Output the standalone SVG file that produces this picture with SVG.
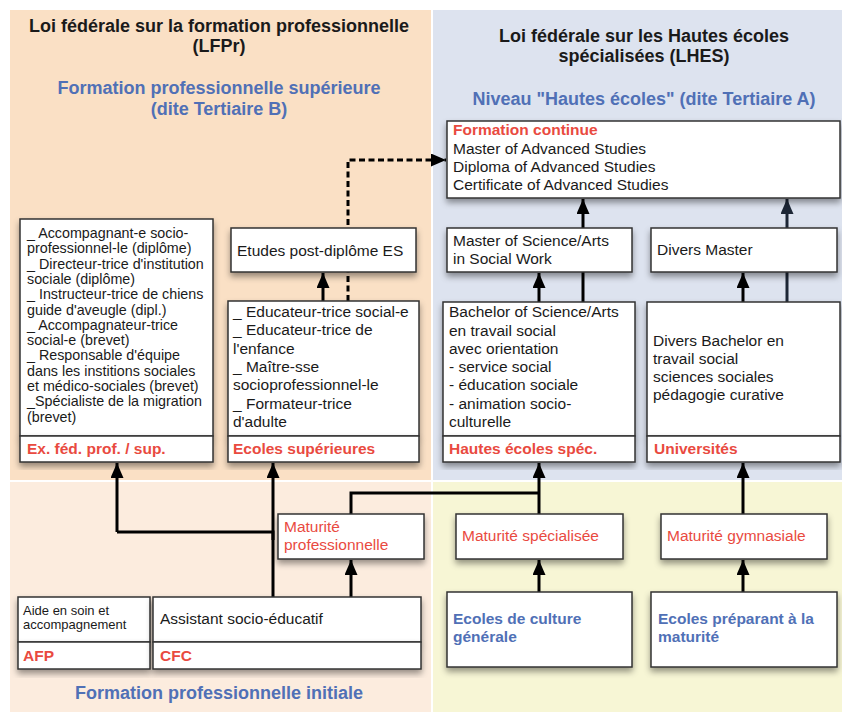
<svg xmlns="http://www.w3.org/2000/svg" width="842" height="712" viewBox="0 0 842 712">
<defs>
<filter id="sh" x="-10%" y="-20%" width="120%" height="150%">
<feDropShadow dx="0" dy="4" stdDeviation="3" flood-color="#000" flood-opacity="0.4"/>
</filter>
<marker id="ah" markerUnits="userSpaceOnUse" markerWidth="16" markerHeight="14" refX="15" refY="6.5" orient="auto">
<path d="M0,0 L15,6.5 L0,13 z" fill="#000"/>
</marker>
<marker id="ahn" markerUnits="userSpaceOnUse" markerWidth="16" markerHeight="14" refX="15" refY="6.5" orient="auto">
<path d="M0,0 L15,6.5 L0,13 z" fill="#1d2736"/>
</marker>
</defs>
<style>
text{font-family:"Liberation Sans",Arial,sans-serif;fill:#1a1a1a}
.t{font-size:18px;font-weight:bold;text-anchor:middle}
.h{font-size:18px;font-weight:bold;text-anchor:middle;fill:#5070b6}
.r{font-size:15.5px}
.s{font-size:14.3px}
.xs{font-size:13px}
.lb{font-size:15.5px;font-weight:bold;fill:#e94a3f}
.red{font-size:15.5px;fill:#e94a3f}
.bl{font-size:15.5px;font-weight:bold;fill:#5070b6}
.box{fill:#fff;stroke:#333;stroke-width:1.5;filter:url(#sh)}
.c{fill:none;stroke:#000;stroke-width:3}
.d{fill:none;stroke:#000;stroke-width:3;stroke-dasharray:6 3.5}
</style>
<g id="regions">
<rect x="10" y="10" width="421" height="470" fill="#fae0c5"/>
<rect x="433" y="10" width="409" height="470" fill="#dde3ef"/>
<rect x="10" y="482" width="421" height="230" fill="#fcecde"/>
<rect x="433" y="482" width="409" height="230" fill="#f7f6d5"/>
</g>
<g id="titles">
<text class="t" x="219" y="31.5">Loi fédérale sur la formation professionnelle</text>
<text class="t" x="219" y="52">(LFPr)</text>
<text class="h" x="219" y="94">Formation professionnelle supérieure</text>
<text class="h" x="219" y="115">(dite Tertiaire B)</text>
<text class="t" x="644" y="41.5">Loi fédérale sur les Hautes écoles</text>
<text class="t" x="644" y="62">spécialisées (LHES)</text>
<text class="h" x="644" y="105">Niveau "Hautes écoles" (dite Tertiaire A)</text>
<text class="h" x="219" y="699">Formation professionnelle initiale</text>
</g>
<g id="connectors">
<path class="c" d="M117,532 L117,463" marker-end="url(#ah)"/>
<path class="c" d="M273,597 L273,532 L117,532"/>
<path class="c" d="M273,540 L273,463" marker-end="url(#ah)"/>
<path class="c" d="M351,597 L351,560" marker-end="url(#ah)"/>
<path class="c" d="M351,514 L351,493 L539,493"/>
<path class="c" d="M539,514 L539,463" marker-end="url(#ah)"/>
<path class="c" d="M539,592 L539,560" marker-end="url(#ah)"/>
<path class="c" d="M743,592 L743,560" marker-end="url(#ah)"/>
<path class="c" d="M743,514 L743,463" marker-end="url(#ah)"/>
<path class="c" d="M539,302 L539,273" marker-end="url(#ah)"/>
<path class="c" d="M583,302 L583,199" marker-end="url(#ah)"/>
<path class="c" d="M743,302 L743,273" marker-end="url(#ah)"/>
<path class="c" d="M787,302 L787,199" style="stroke:#1d2736" marker-end="url(#ahn)"/>
<path class="c" d="M323,301 L323,273" marker-end="url(#ah)"/>
<path class="d" d="M348,301 L348,160 L446,160" marker-end="url(#ah)"/>
</g>
<g id="exfed">
<rect class="box" x="20" y="219" width="193" height="217"/>
<rect class="box" x="20" y="436" width="193" height="26"/>
<text class="s" x="27" y="238">_ Accompagnant-e socio-</text>
<text class="s" x="27" y="253.3">professionnel-le (diplôme)</text>
<text class="s" x="27" y="268.6">_ Directeur-trice d'institution</text>
<text class="s" x="27" y="283.9">sociale (diplôme)</text>
<text class="s" x="27" y="299.2">_ Instructeur-trice de chiens</text>
<text class="s" x="27" y="314.5">guide d'aveugle (dipl.)</text>
<text class="s" x="27" y="329.8">_ Accompagnateur-trice</text>
<text class="s" x="27" y="345.1">social-e (brevet)</text>
<text class="s" x="27" y="360.4">_ Responsable d'équipe</text>
<text class="s" x="27" y="375.7">dans les institions sociales</text>
<text class="s" x="27" y="391">et médico-sociales (brevet)</text>
<text class="s" x="27" y="406.3">_Spécialiste de la migration</text>
<text class="s" x="27" y="421.6">(brevet)</text>
<text class="lb" x="27" y="454">Ex. féd. prof. / sup.</text>
</g>
<g id="etudes">
<rect class="box" x="231" y="228" width="185" height="44"/>
<text class="r" x="237" y="255.5">Etudes post-diplôme ES</text>
</g>
<g id="es">
<rect class="box" x="228" y="301" width="191" height="135"/>
<rect class="box" x="228" y="436" width="191" height="26"/>
<text class="r" x="233" y="317">_ Educateur-trice social-e</text>
<text class="r" x="233" y="335.3">_ Educateur-trice de</text>
<text class="r" x="233" y="353.6">l'enfance</text>
<text class="r" x="233" y="371.9">_ Maître-sse</text>
<text class="r" x="233" y="390.2">socioprofessionnel-le</text>
<text class="r" x="233" y="408.5">_ Formateur-trice</text>
<text class="r" x="233" y="426.8">d'adulte</text>
<text class="lb" x="233" y="454">Ecoles supérieures</text>
</g>
<g id="formation-continue">
<rect class="box" x="447" y="121" width="393" height="77"/>
<text class="lb" x="453" y="135">Formation continue</text>
<text class="r" x="453" y="153.5">Master of Advanced Studies</text>
<text class="r" x="453" y="171.5">Diploma of Advanced Studies</text>
<text class="r" x="453" y="189.5">Certificate of Advanced Studies</text>
</g>
<g id="master-sw">
<rect class="box" x="447" y="228" width="185" height="44"/>
<text class="r" x="453" y="245.5">Master of Science/Arts</text>
<text class="r" x="453" y="263.5">in Social Work</text>
</g>
<g id="divers-master">
<rect class="box" x="651" y="228" width="186" height="44"/>
<text class="r" x="657" y="255">Divers Master</text>
</g>
<g id="hes">
<rect class="box" x="443" y="302" width="192" height="134"/>
<rect class="box" x="443" y="436" width="192" height="26"/>
<text class="r" x="449" y="317.3">Bachelor of Science/Arts</text>
<text class="r" x="449" y="335.5">en travail social</text>
<text class="r" x="449" y="353.8">avec orientation</text>
<text class="r" x="449" y="372">- service social</text>
<text class="r" x="449" y="390.3">- éducation sociale</text>
<text class="r" x="449" y="408.5">- animation socio-</text>
<text class="r" x="449" y="426.8">culturelle</text>
<text class="lb" x="449" y="454">Hautes écoles spéc.</text>
</g>
<g id="universites">
<rect class="box" x="647" y="302" width="193" height="134"/>
<rect class="box" x="647" y="436" width="193" height="26"/>
<text class="r" x="653" y="345.7">Divers Bachelor en</text>
<text class="r" x="653" y="363.8">travail social</text>
<text class="r" x="653" y="382">sciences sociales</text>
<text class="r" x="653" y="400.2">pédagogie curative</text>
<text class="lb" x="654" y="454">Universités</text>
</g>
<g id="mat-pro">
<rect class="box" x="278" y="514" width="146" height="45"/>
<text class="red" x="284" y="531.7">Maturité</text>
<text class="red" x="284" y="549.5">professionnelle</text>
</g>
<g id="mat-spec">
<rect class="box" x="456" y="514" width="167" height="45"/>
<text class="red" x="462" y="541">Maturité spécialisée</text>
</g>
<g id="mat-gym">
<rect class="box" x="661" y="514" width="166" height="45"/>
<text class="red" x="667" y="541">Maturité gymnasiale</text>
</g>
<g id="afp">
<rect class="box" x="18" y="597" width="132" height="45"/>
<rect class="box" x="18" y="642" width="132" height="27"/>
<text class="xs" x="23" y="615">Aide en soin et</text>
<text class="xs" x="23" y="628.5">accompagnement</text>
<text class="lb" x="23" y="661">AFP</text>
</g>
<g id="cfc">
<rect class="box" x="153" y="597" width="268" height="45"/>
<rect class="box" x="153" y="642" width="268" height="27"/>
<text class="r" x="160" y="623.5">Assistant socio-éducatif</text>
<text class="lb" x="160" y="661">CFC</text>
</g>
<g id="ecg">
<rect class="box" x="447" y="592" width="185" height="75"/>
<text class="bl" x="453" y="624">Ecoles de culture</text>
<text class="bl" x="453" y="642">générale</text>
</g>
<g id="epm">
<rect class="box" x="651" y="592" width="186" height="75"/>
<text class="bl" x="658" y="624">Ecoles préparant à la</text>
<text class="bl" x="658" y="642">maturité</text>
</g>
</svg>
